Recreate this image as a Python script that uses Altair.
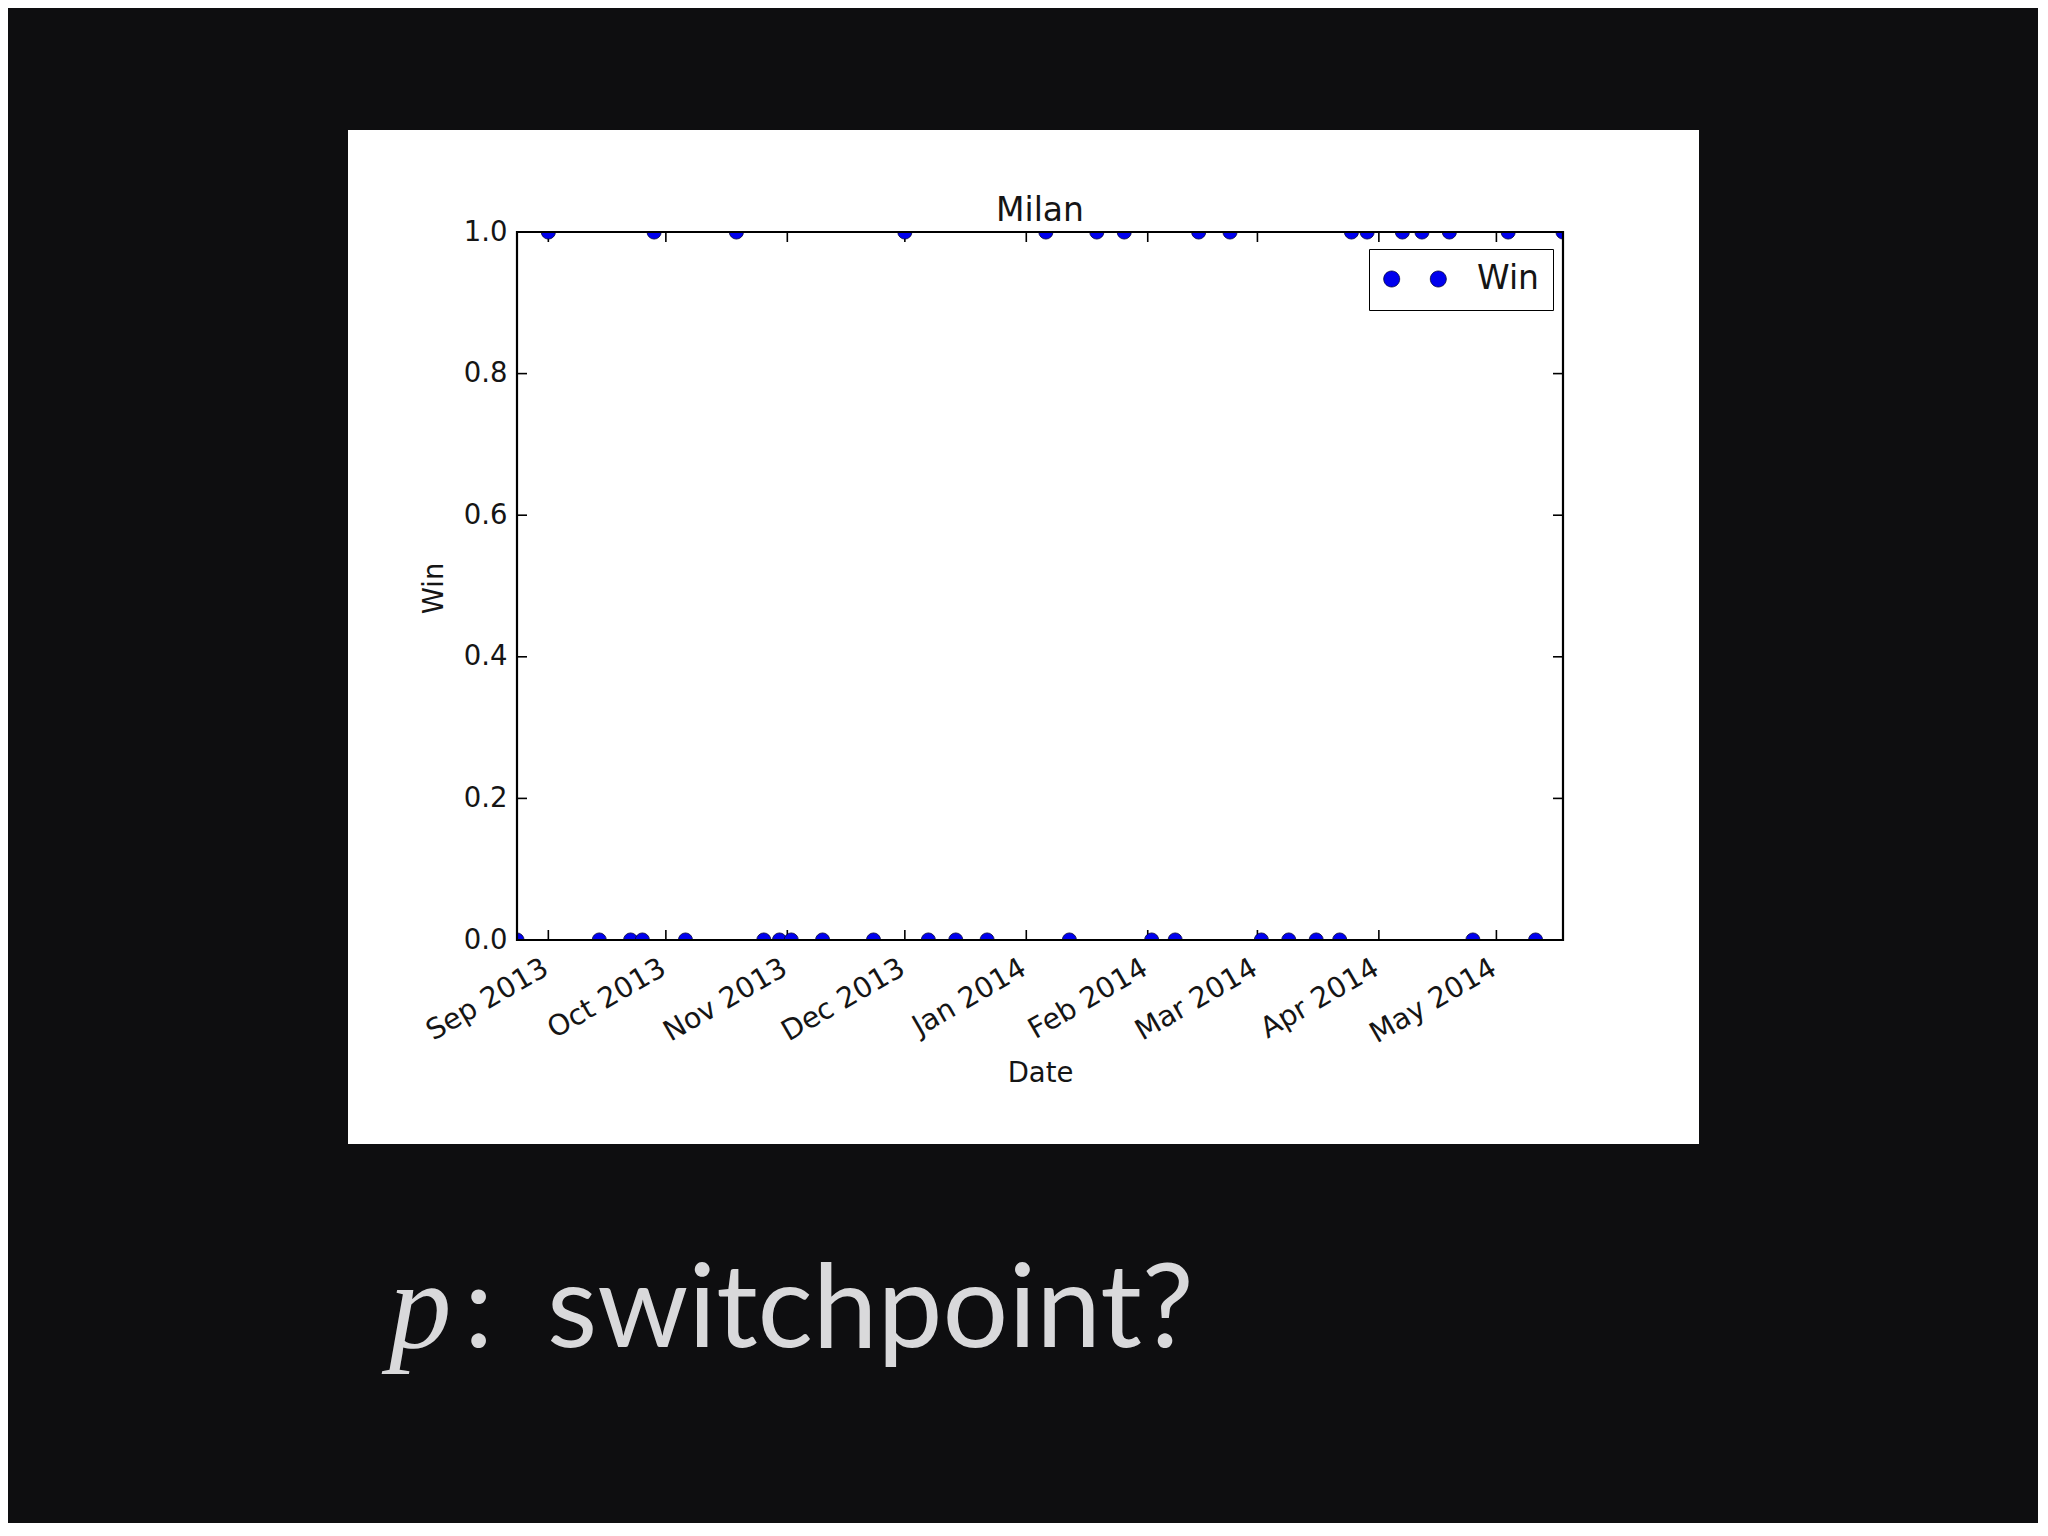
import altair as alt
import pandas as pd

# ---- data (AC Milan, Serie A 2013-14) ----
win_dates = [
    "2013-09-01", "2013-09-28", "2013-10-19", "2013-12-01", "2014-01-06",
    "2014-01-19", "2014-01-26", "2014-02-14", "2014-02-22", "2014-03-25",
    "2014-03-29", "2014-04-07", "2014-04-12", "2014-04-19", "2014-05-04",
    "2014-05-18",
]
no_win_dates = [
    "2013-08-24", "2013-09-14", "2013-09-22", "2013-09-25", "2013-10-06",
    "2013-10-26", "2013-10-30", "2013-11-02", "2013-11-10", "2013-11-23",
    "2013-12-07", "2013-12-14", "2013-12-22", "2014-01-12", "2014-02-02",
    "2014-02-08", "2014-03-02", "2014-03-09", "2014-03-16", "2014-03-22",
    "2014-04-25", "2014-05-11",
]
month_ticks = [
    (2013, 9), (2013, 10), (2013, 11), (2013, 12), (2014, 1),
    (2014, 2), (2014, 3), (2014, 4), (2014, 5),
]
y_ticks = [0.0, 0.2, 0.4, 0.6, 0.8, 1.0]
x_start = (2013, 8, 24)
x_end = (2014, 5, 18)

chart_title = "Milan"
x_title = "Date"
y_title = "Win"
legend_label = "Win"
slide_symbol = "p"
slide_colon = ":"
slide_text = "switchpoint?"

# ---- styling ----
W, H = 1046, 708
FONT = "DejaVu Sans"
INK = "#151515"
DOT = "#0000ee"
SLIDE_BG = "#0e0e10"
SLIDE_FG = "#d9d9db"
TICK_FS = 27.5
XTICK_FS = 28.5
BIG_FS = 33

games = pd.DataFrame({
    "Date": [d + "T00:00:00" for d in win_dates + no_win_dates],
    "Win": [1] * len(win_dates) + [0] * len(no_win_dates),
    "series": [legend_label] * (len(win_dates) + len(no_win_dates)),
})
months = pd.DataFrame({
    "m": ["%04d-%02d-01T00:00:00" % (y, m) for (y, m) in month_ticks]
})
yvals = pd.DataFrame({"v": y_ticks})
one = pd.DataFrame({"k": [0]})

xscale = alt.Scale(
    domain=[alt.DateTime(year=x_start[0], month=x_start[1], date=x_start[2]),
            alt.DateTime(year=x_end[0], month=x_end[1], date=x_end[2])],
    nice=False,
)
yscale = alt.Scale(domain=[0, 1], nice=False, zero=False)

x_axis = alt.Axis(
    values=[alt.DateTime(year=y, month=m, date=1) for (y, m) in month_ticks],
    format="%b %Y", labelAngle=-30, labelAlign="right", labelBaseline="top",
    labelOffset=-10, labelPadding=13, labelFontSize=XTICK_FS, labelFont=FONT,
    labelColor=INK, labelFlush=False, labelOverlap=False,
    ticks=False, domain=False, grid=False, zindex=1,
    title=x_title, titleFontSize=TICK_FS, titleFont=FONT, titleFontWeight="normal",
    titleColor=INK, titleX=W / 2, titleY=133, titleBaseline="middle",
    titleAlign="center",
)
y_axis = alt.Axis(
    values=y_ticks, format=".1f", labelFontSize=TICK_FS, labelFont=FONT,
    labelColor=INK, labelPadding=10, ticks=False, domain=False, grid=False,
    zindex=1,
    title=y_title, titleFontSize=TICK_FS, titleFont=FONT, titleFontWeight="normal",
    titleColor=INK, titleX=-83, titleY=356, titleAngle=270,
    titleBaseline="middle", titleAlign="center",
)

# two-dot legend symbol (matplotlib numpoints=2)
TWO_DOTS = ("M-1,0A0.2556,0.2556,0,1,0,-0.4888,0A0.2556,0.2556,0,1,0,-1,0Z"
            "M0.4888,0A0.2556,0.2556,0,1,0,1,0A0.2556,0.2556,0,1,0,0.4888,0Z")

legend = alt.Legend(
    title=None, orient="none", legendX=852, legendY=17,
    symbolType=TWO_DOTS, symbolSize=3919, symbolOpacity=1,
    symbolStrokeColor="#00003a", symbolStrokeWidth=0.8,
    labelFontSize=BIG_FS, labelFont=FONT, labelColor=INK, labelOffset=30,
    padding=14, clipHeight=32, strokeColor="black", fillColor="white",
    cornerRadius=0, zindex=2,
)

panel = alt.Chart(one).mark_rect(fill="white").encode(
    x=alt.value(-169), x2=alt.value(1182), y=alt.value(-102), y2=alt.value(912)
)

points = alt.Chart(games).mark_circle(
    size=201, opacity=1, clip=True, stroke="#00003a", strokeWidth=0.8
).encode(
    x=alt.X("Date:T", scale=xscale, axis=x_axis),
    y=alt.Y("Win:Q", scale=yscale, axis=y_axis),
    color=alt.Color("series:N", scale=alt.Scale(domain=[legend_label], range=[DOT]),
                    legend=legend),
)

tick_style = dict(color="black", strokeWidth=1.6)
ticks_bottom = alt.Chart(months).mark_rule(**tick_style).encode(
    x=alt.X("m:T", scale=xscale), y=alt.value(H), y2=alt.value(H - 10))
ticks_top = alt.Chart(months).mark_rule(**tick_style).encode(
    x=alt.X("m:T", scale=xscale), y=alt.value(0), y2=alt.value(10))
ticks_left = alt.Chart(yvals).mark_rule(**tick_style).encode(
    y=alt.Y("v:Q", scale=yscale), x=alt.value(0), x2=alt.value(10))
ticks_right = alt.Chart(yvals).mark_rule(**tick_style).encode(
    y=alt.Y("v:Q", scale=yscale), x=alt.value(W), x2=alt.value(W - 10))

frame = alt.Chart(one).mark_rect(filled=False, stroke="black", strokeWidth=2.2).encode(
    x=alt.value(0), x2=alt.value(W), y=alt.value(0), y2=alt.value(H)
)

title_mark = alt.Chart(one).mark_text(
    text=chart_title, font=FONT, fontSize=BIG_FS, color=INK,
    align="center", baseline="alphabetic"
).encode(x=alt.value(W / 2), y=alt.value(-11))

slide_p = alt.Chart(one).mark_text(
    text=slide_symbol, font="Liberation Serif", fontStyle="italic", fontSize=125,
    color=SLIDE_FG, align="left", baseline="alphabetic"
).encode(x=alt.value(-128), y=alt.value(1115))
slide_c = alt.Chart(one).mark_text(
    text=slide_colon, font="Lato", fontSize=117,
    color=SLIDE_FG, align="left", baseline="alphabetic"
).encode(x=alt.value(-53), y=alt.value(1115))
slide_t = alt.Chart(one).mark_text(
    text=slide_text, font="Lato", fontSize=116,
    color=SLIDE_FG, align="left", baseline="alphabetic"
).encode(x=alt.value(30), y=alt.value(1115))

chart = alt.layer(
    panel, ticks_bottom, ticks_top, ticks_left, ticks_right, points, frame,
    title_mark, slide_p, slide_c, slide_t,
).properties(
    width=W, height=H,
    autosize=alt.AutoSizeParams(type="none"),
    padding={"left": 509, "top": 224, "right": 475, "bottom": 583},
).configure(
    background=SLIDE_BG,
).configure_view(
    strokeOpacity=0,
)

chart.save("out.html", embed_options={"renderer": "svg", "actions": False})
